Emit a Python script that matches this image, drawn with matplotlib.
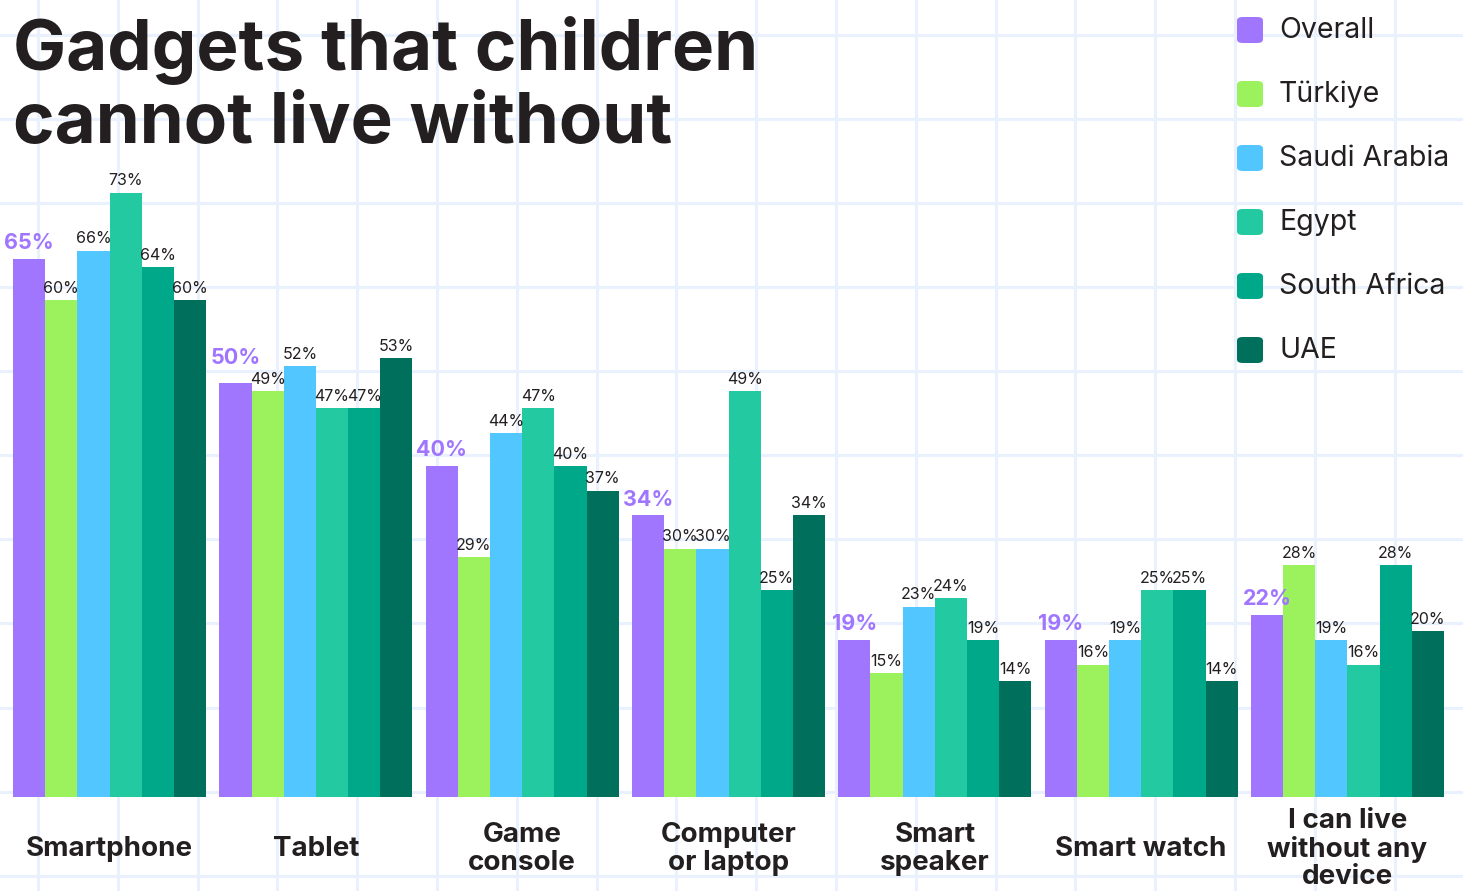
import numpy as np
import matplotlib
matplotlib.use("Agg")
import matplotlib.pyplot as plt
from matplotlib.transforms import blended_transform_factory

plt.rcParams['font.family'] = ['Inter', 'DejaVu Sans']

categories = ["Smartphone", "Tablet", "Game\nconsole", "Computer\nor laptop",
              "Smart\nspeaker", "Smart watch", "I can live\nwithout any\ndevice"]
series = ["Overall", "Türkiye", "Saudi Arabia", "Egypt", "South Africa", "UAE"]
overall = [65, 50, 40, 34, 19, 19, 22]
turkiye = [60, 49, 29, 30, 15, 16, 28]
saudi = [66, 52, 44, 30, 23, 19, 19]
egypt = [73, 47, 47, 49, 24, 25, 16]
south_africa = [64, 47, 40, 25, 19, 25, 28]
uae = [60, 53, 37, 34, 14, 14, 20]
values = [overall, turkiye, saudi, egypt, south_africa, uae]
colors = ["#A076FF", "#9BF25C", "#52C6FF", "#23C9A0", "#00A88A", "#00705C"]

W, H = 1463, 891
fig = plt.figure(figsize=(W / 100, H / 100), dpi=100)

# background grid paper
bg = fig.add_axes([0, 0, 1, 1], zorder=0)
bg.set_xlim(0, W)
bg.set_ylim(H, 0)
bg.axis("off")
for gx in np.arange(38, W, 79.8):
    bg.axvline(gx, color="#E8F1FD", lw=2.2)
for gy in np.arange(34.8, H, 84.1):
    bg.axhline(gy, color="#E8F1FD", lw=2.2)

# main axes (baseline at y=797px)
base = 797
ax = fig.add_axes([0, (H - base) / H, 1, base / H], zorder=1)
ax.patch.set_alpha(0)
ax.set_xlim(-0.531, 6.560)
ax.set_ylim(0, base / 8.28)
ax.axis("off")

x = np.arange(len(categories))
w = 0.156
for j, (vals, c) in enumerate(zip(values, colors)):
    pos = x + (j - 2.5) * w
    ax.bar(pos, vals, width=w, color=c, edgecolor="none", zorder=2)
    for i, (px, v) in enumerate(zip(pos, vals)):
        if j == 0:
            # lift the big label when the neighbour's label sits at the same height
            off = 4 + (7 if abs(v - turkiye[i]) < 3 else 0)
            ax.annotate(f"{v}%", (px, v), xytext=(0, off), textcoords="offset points",
                        ha="center", va="bottom", fontsize=15.5, fontweight="bold",
                        color="#A076FF")
        else:
            ax.annotate(f"{v}%", (px, v), xytext=(0, 3), textcoords="offset points",
                        ha="center", va="bottom", fontsize=11.5, color="#231F20")

# category labels
tr = blended_transform_factory(ax.transData, fig.transFigure)
for xi, lab in zip(x, categories):
    ax.text(xi, 1 - 849 / H, lab, transform=tr, ha="center", va="center",
            fontsize=20, fontweight="bold", color="#231F20", linespacing=1.06)

# title
fig.text(13 / W, 1 - 70 / H, "Gadgets that children", fontsize=51, fontweight="bold",
         color="#231F20", va="baseline", ha="left")
fig.text(13 / W, 1 - 143 / H, "cannot live without", fontsize=51, fontweight="bold",
         color="#231F20", va="baseline", ha="left")

# legend
for k, (name, c) in enumerate(zip(series, colors)):
    yc = 30 + 64 * k
    fig.patches.append(matplotlib.patches.FancyBboxPatch(
        (1237 / W, 1 - (yc + 13) / H), 26 / W, 26 / H,
        boxstyle="round,pad=0,rounding_size=0.004", transform=fig.transFigure,
        facecolor=c, edgecolor="none", zorder=3))
    fig.text(1279 / W, 1 - yc / H, name, fontsize=20.5, color="#231F20",
             va="center", ha="left")

fig.savefig("out.png", dpi=100)
